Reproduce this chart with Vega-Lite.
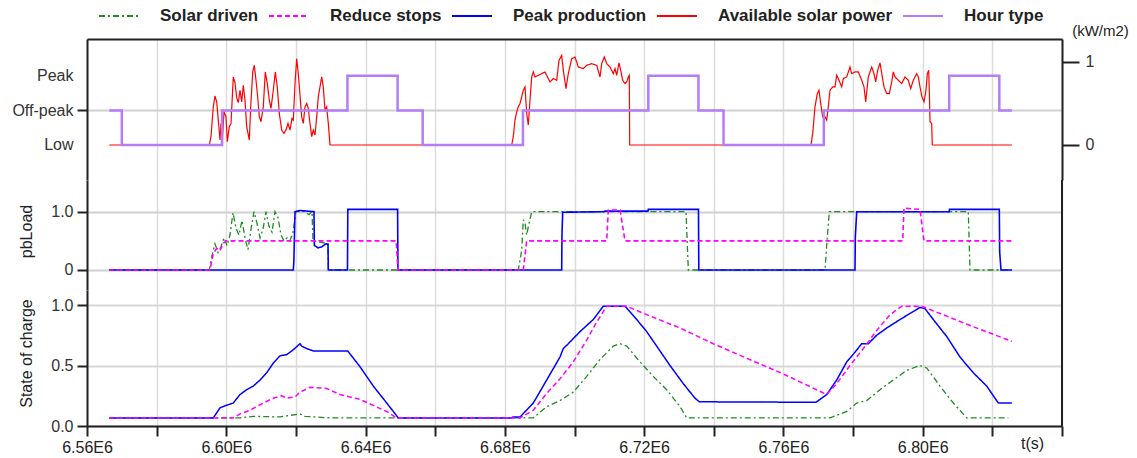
{
 "$schema": "https://vega.github.io/schema/vega-lite/v6.json",
 "background": "white",
 "padding": {"left": 11, "top": -5, "right": 5, "bottom": 5},
 "bounds": "flush",
 "spacing": 0,
 "config": {
  "view": {"stroke": null},
  "font": "Liberation Sans",
  "axis": {"labelFont": "Liberation Sans", "titleFont": "Liberation Sans", "labelColor": "#333", "titleColor": "#222", "gridColor": "#dcdcdc", "gridWidth": 1.5, "domainColor": "#222", "domainWidth": 2, "tickColor": "#222", "tickWidth": 2, "labelOverlap": false, "labelFlush": false}
 },
 "resolve": {"scale": {"color": "independent", "strokeDash": "independent"}, "legend": {"color": "independent", "strokeDash": "independent"}},
 "datasets": {
  "hour": [
   {"t":6566400,"v":1,"s":"Hour type"},{"t":6570000,"v":0,"s":"Hour type"},{"t":6598800,"v":1,"s":"Hour type"},{"t":6634800,"v":2,"s":"Hour type"},{"t":6649200,"v":1,"s":"Hour type"},{"t":6656400,"v":0,"s":"Hour type"},{"t":6685200,"v":1,"s":"Hour type"},{"t":6721200,"v":2,"s":"Hour type"},{"t":6735600,"v":1,"s":"Hour type"},{"t":6742800,"v":0,"s":"Hour type"},{"t":6771600,"v":1,"s":"Hour type"},{"t":6807600,"v":2,"s":"Hour type"},{"t":6822000,"v":1,"s":"Hour type"},{"t":6825600,"v":1,"s":"Hour type"}
  ],
  "solar": [
   {"t":6566400,"v":0,"s":"Available solar power"},{"t":6595122,"v":0,"s":"Available solar power"},{"t":6595610,"v":0.10,"s":"Available solar power"},{"t":6596271,"v":0.46,"s":"Available solar power"},{"t":6596759,"v":0.59,"s":"Available solar power"},{"t":6597247,"v":0.52,"s":"Available solar power"},{"t":6597707,"v":0.30,"s":"Available solar power"},{"t":6598195,"v":0.06,"s":"Available solar power"},{"t":6598482,"v":0.26,"s":"Available solar power"},{"t":6598855,"v":0.06,"s":"Available solar power"},{"t":6599344,"v":0.40,"s":"Available solar power"},{"t":6599918,"v":0.34,"s":"Available solar power"},{"t":6600291,"v":0.04,"s":"Available solar power"},{"t":6600866,"v":0.22,"s":"Available solar power"},{"t":6601354,"v":0.26,"s":"Available solar power"},{"t":6602014,"v":0.82,"s":"Available solar power"},{"t":6602503,"v":0.75,"s":"Available solar power"},{"t":6602991,"v":0.57,"s":"Available solar power"},{"t":6603450,"v":0.51,"s":"Available solar power"},{"t":6603939,"v":0.66,"s":"Available solar power"},{"t":6604427,"v":0.52,"s":"Available solar power"},{"t":6604886,"v":0.72,"s":"Available solar power"},{"t":6605374,"v":0.54,"s":"Available solar power"},{"t":6605863,"v":0.22,"s":"Available solar power"},{"t":6606609,"v":0.06,"s":"Available solar power"},{"t":6607011,"v":0.46,"s":"Available solar power"},{"t":6607586,"v":0.88,"s":"Available solar power"},{"t":6608045,"v":0.96,"s":"Available solar power"},{"t":6608533,"v":0.78,"s":"Available solar power"},{"t":6609022,"v":0.58,"s":"Available solar power"},{"t":6609481,"v":0.34,"s":"Available solar power"},{"t":6609969,"v":0.28,"s":"Available solar power"},{"t":6610630,"v":0.46,"s":"Available solar power"},{"t":6611204,"v":0.88,"s":"Available solar power"},{"t":6611779,"v":0.74,"s":"Available solar power"},{"t":6612353,"v":0.54,"s":"Available solar power"},{"t":6612841,"v":0.44,"s":"Available solar power"},{"t":6613502,"v":0.66,"s":"Available solar power"},{"t":6614076,"v":0.88,"s":"Available solar power"},{"t":6614650,"v":0.70,"s":"Available solar power"},{"t":6615225,"v":0.38,"s":"Available solar power"},{"t":6615914,"v":0.18,"s":"Available solar power"},{"t":6616574,"v":0.14,"s":"Available solar power"},{"t":6617149,"v":0.18,"s":"Available solar power"},{"t":6617723,"v":0.26,"s":"Available solar power"},{"t":6618298,"v":0.18,"s":"Available solar power"},{"t":6618872,"v":0.32,"s":"Available solar power"},{"t":6619245,"v":0.30,"s":"Available solar power"},{"t":6619733,"v":0.74,"s":"Available solar power"},{"t":6620222,"v":1.04,"s":"Available solar power"},{"t":6620681,"v":0.86,"s":"Available solar power"},{"t":6621169,"v":0.60,"s":"Available solar power"},{"t":6621657,"v":0.34,"s":"Available solar power"},{"t":6622117,"v":0.26,"s":"Available solar power"},{"t":6622605,"v":0.46,"s":"Available solar power"},{"t":6623093,"v":0.50,"s":"Available solar power"},{"t":6623553,"v":0.44,"s":"Available solar power"},{"t":6624041,"v":0.26,"s":"Available solar power"},{"t":6624529,"v":0.10,"s":"Available solar power"},{"t":6624989,"v":0.18,"s":"Available solar power"},{"t":6625477,"v":0.12,"s":"Available solar power"},{"t":6625965,"v":0.34,"s":"Available solar power"},{"t":6626425,"v":0.58,"s":"Available solar power"},{"t":6626913,"v":0.70,"s":"Available solar power"},{"t":6627401,"v":0.82,"s":"Available solar power"},{"t":6627861,"v":0.70,"s":"Available solar power"},{"t":6628349,"v":0.42,"s":"Available solar power"},{"t":6628837,"v":0.46,"s":"Available solar power"},{"t":6629297,"v":0.26,"s":"Available solar power"},{"t":6629785,"v":0,"s":"Available solar power"},
   {"t":6681965,"v":0,"s":"Available solar power"},{"t":6682425,"v":0.10,"s":"Available solar power"},{"t":6682913,"v":0.30,"s":"Available solar power"},{"t":6683401,"v":0.40,"s":"Available solar power"},{"t":6683861,"v":0.46,"s":"Available solar power"},{"t":6684349,"v":0.50,"s":"Available solar power"},{"t":6684837,"v":0.58,"s":"Available solar power"},{"t":6685297,"v":0.66,"s":"Available solar power"},{"t":6685785,"v":0.70,"s":"Available solar power"},{"t":6686273,"v":0.38,"s":"Available solar power"},{"t":6686733,"v":0.24,"s":"Available solar power"},{"t":6687221,"v":0.54,"s":"Available solar power"},{"t":6687709,"v":0.82,"s":"Available solar power"},{"t":6688169,"v":0.88,"s":"Available solar power"},{"t":6688657,"v":0.82,"s":"Available solar power"},{"t":6689605,"v":0.84,"s":"Available solar power"},{"t":6690581,"v":0.86,"s":"Available solar power"},{"t":6691528,"v":0.88,"s":"Available solar power"},{"t":6692476,"v":0.80,"s":"Available solar power"},{"t":6692964,"v":0.76,"s":"Available solar power"},{"t":6693912,"v":0.80,"s":"Available solar power"},{"t":6694888,"v":0.78,"s":"Available solar power"},{"t":6695549,"v":1.02,"s":"Available solar power"},{"t":6696324,"v":1.08,"s":"Available solar power"},{"t":6696784,"v":0.90,"s":"Available solar power"},{"t":6697559,"v":0.68,"s":"Available solar power"},{"t":6698220,"v":0.86,"s":"Available solar power"},{"t":6699196,"v":1.04,"s":"Available solar power"},{"t":6700144,"v":1.06,"s":"Available solar power"},{"t":6701091,"v":0.94,"s":"Available solar power"},{"t":6702528,"v":0.92,"s":"Available solar power"},{"t":6703504,"v":0.96,"s":"Available solar power"},{"t":6704940,"v":0.98,"s":"Available solar power"},{"t":6706376,"v":0.96,"s":"Available solar power"},{"t":6707323,"v":0.82,"s":"Available solar power"},{"t":6707812,"v":0.98,"s":"Available solar power"},{"t":6708558,"v":1.06,"s":"Available solar power"},{"t":6709248,"v":0.98,"s":"Available solar power"},{"t":6710195,"v":0.94,"s":"Available solar power"},{"t":6711143,"v":0.86,"s":"Available solar power"},{"t":6711631,"v":0.92,"s":"Available solar power"},{"t":6712119,"v":0.84,"s":"Available solar power"},{"t":6712780,"v":0.99,"s":"Available solar power"},{"t":6713268,"v":0.90,"s":"Available solar power"},{"t":6713842,"v":0.78,"s":"Available solar power"},{"t":6714503,"v":0.74,"s":"Available solar power"},{"t":6714991,"v":0.76,"s":"Available solar power"},{"t":6715451,"v":0.82,"s":"Available solar power"},{"t":6715738,"v":0.84,"s":"Available solar power"},{"t":6715853,"v":0,"s":"Available solar power"},
   {"t":6767918,"v":0,"s":"Available solar power"},{"t":6768406,"v":0.14,"s":"Available solar power"},{"t":6769067,"v":0.46,"s":"Available solar power"},{"t":6769727,"v":0.62,"s":"Available solar power"},{"t":6770216,"v":0.66,"s":"Available solar power"},{"t":6770704,"v":0.50,"s":"Available solar power"},{"t":6771278,"v":0.34,"s":"Available solar power"},{"t":6771939,"v":0.34,"s":"Available solar power"},{"t":6772427,"v":0.30,"s":"Available solar power"},{"t":6772886,"v":0.46,"s":"Available solar power"},{"t":6773375,"v":0.66,"s":"Available solar power"},{"t":6774150,"v":0.70,"s":"Available solar power"},{"t":6774811,"v":0.70,"s":"Available solar power"},{"t":6775299,"v":0.84,"s":"Available solar power"},{"t":6775758,"v":0.80,"s":"Available solar power"},{"t":6776735,"v":0.70,"s":"Available solar power"},{"t":6777194,"v":0.80,"s":"Available solar power"},{"t":6778171,"v":0.82,"s":"Available solar power"},{"t":6779118,"v":0.94,"s":"Available solar power"},{"t":6779607,"v":0.86,"s":"Available solar power"},{"t":6780554,"v":0.88,"s":"Available solar power"},{"t":6781502,"v":0.88,"s":"Available solar power"},{"t":6782478,"v":0.78,"s":"Available solar power"},{"t":6783139,"v":0.70,"s":"Available solar power"},{"t":6783627,"v":0.52,"s":"Available solar power"},{"t":6784374,"v":0.82,"s":"Available solar power"},{"t":6785350,"v":0.94,"s":"Available solar power"},{"t":6786011,"v":0.86,"s":"Available solar power"},{"t":6786499,"v":0.76,"s":"Available solar power"},{"t":6787073,"v":0.90,"s":"Available solar power"},{"t":6787734,"v":0.99,"s":"Available solar power"},{"t":6788394,"v":0.82,"s":"Available solar power"},{"t":6788882,"v":0.70,"s":"Available solar power"},{"t":6789658,"v":0.62,"s":"Available solar power"},{"t":6790404,"v":0.62,"s":"Available solar power"},{"t":6791094,"v":0.76,"s":"Available solar power"},{"t":6791553,"v":0.88,"s":"Available solar power"},{"t":6792041,"v":0.82,"s":"Available solar power"},{"t":6792989,"v":0.78,"s":"Available solar power"},{"t":6793966,"v":0.74,"s":"Available solar power"},{"t":6794913,"v":0.82,"s":"Available solar power"},{"t":6795861,"v":0.78,"s":"Available solar power"},{"t":6796550,"v":0.68,"s":"Available solar power"},{"t":6797297,"v":0.78,"s":"Available solar power"},{"t":6798273,"v":0.86,"s":"Available solar power"},{"t":6798733,"v":0.82,"s":"Available solar power"},{"t":6799221,"v":0.70,"s":"Available solar power"},{"t":6799795,"v":0.58,"s":"Available solar power"},{"t":6800370,"v":0.52,"s":"Available solar power"},{"t":6800944,"v":0.66,"s":"Available solar power"},{"t":6801318,"v":0.86,"s":"Available solar power"},{"t":6801720,"v":0.90,"s":"Available solar power"},{"t":6801892,"v":0.66,"s":"Available solar power"},{"t":6802093,"v":0.28,"s":"Available solar power"},{"t":6802581,"v":0.26,"s":"Available solar power"},{"t":6802753,"v":0,"s":"Available solar power"},{"t":6825600,"v":0,"s":"Available solar power"}
  ],
  "pbSolar": [
   {"t":6566400,"v":0,"s":"Solar driven"},{"t":6595122,"v":0,"s":"Solar driven"},{"t":6595898,"v":0.25,"s":"Solar driven"},{"t":6596759,"v":0.45,"s":"Solar driven"},{"t":6597621,"v":0.30,"s":"Solar driven"},{"t":6598482,"v":0.40,"s":"Solar driven"},{"t":6599344,"v":0.55,"s":"Solar driven"},{"t":6600205,"v":0.42,"s":"Solar driven"},{"t":6601067,"v":0.60,"s":"Solar driven"},{"t":6601928,"v":0.98,"s":"Solar driven"},{"t":6602790,"v":0.72,"s":"Solar driven"},{"t":6603651,"v":0.60,"s":"Solar driven"},{"t":6604513,"v":0.85,"s":"Solar driven"},{"t":6605374,"v":0.55,"s":"Solar driven"},{"t":6606236,"v":0.35,"s":"Solar driven"},{"t":6607098,"v":0.70,"s":"Solar driven"},{"t":6607959,"v":1.0,"s":"Solar driven"},{"t":6608821,"v":0.80,"s":"Solar driven"},{"t":6609682,"v":0.55,"s":"Solar driven"},{"t":6610544,"v":0.70,"s":"Solar driven"},{"t":6611405,"v":1.0,"s":"Solar driven"},{"t":6612267,"v":0.75,"s":"Solar driven"},{"t":6613128,"v":0.65,"s":"Solar driven"},{"t":6613990,"v":1.0,"s":"Solar driven"},{"t":6614851,"v":0.90,"s":"Solar driven"},{"t":6615713,"v":0.60,"s":"Solar driven"},{"t":6616574,"v":0.50,"s":"Solar driven"},{"t":6617436,"v":0.55,"s":"Solar driven"},{"t":6618298,"v":0.50,"s":"Solar driven"},{"t":6619159,"v":0.65,"s":"Solar driven"},{"t":6620021,"v":1.0,"s":"Solar driven"},{"t":6622605,"v":1.0,"s":"Solar driven"},{"t":6623754,"v":0.95,"s":"Solar driven"},{"t":6624616,"v":1.0,"s":"Solar driven"},{"t":6624903,"v":0.50,"s":"Solar driven"},{"t":6626913,"v":0.48,"s":"Solar driven"},{"t":6629210,"v":0.45,"s":"Solar driven"},{"t":6629300,"v":0,"s":"Solar driven"},{"t":6683861,"v":0,"s":"Solar driven"},{"t":6684837,"v":0.34,"s":"Solar driven"},{"t":6685297,"v":0.86,"s":"Solar driven"},{"t":6685785,"v":0.80,"s":"Solar driven"},{"t":6686273,"v":0.60,"s":"Solar driven"},{"t":6686733,"v":0.74,"s":"Solar driven"},{"t":6687709,"v":1.0,"s":"Solar driven"},{"t":6732021,"v":1.0,"s":"Solar driven"},{"t":6732681,"v":0,"s":"Solar driven"},{"t":6771939,"v":0,"s":"Solar driven"},{"t":6772513,"v":0.5,"s":"Solar driven"},{"t":6773174,"v":1.0,"s":"Solar driven"},{"t":6813092,"v":1.0,"s":"Solar driven"},{"t":6813580,"v":0,"s":"Solar driven"},{"t":6825600,"v":0,"s":"Solar driven"}
  ],
  "pbPeak": [
   {"t":6566400,"v":0,"s":"Peak production"},{"t":6619245,"v":0,"s":"Peak production"},{"t":6619400,"v":0.14,"s":"Peak production"},{"t":6619733,"v":1.0,"s":"Peak production"},{"t":6621169,"v":1.02,"s":"Peak production"},{"t":6625190,"v":1.0,"s":"Peak production"},{"t":6625300,"v":0.42,"s":"Peak production"},{"t":6626339,"v":0.38,"s":"Peak production"},{"t":6627487,"v":0.40,"s":"Peak production"},{"t":6628636,"v":0.45,"s":"Peak production"},{"t":6629210,"v":0.44,"s":"Peak production"},{"t":6629300,"v":0,"s":"Peak production"},{"t":6634800,"v":0,"s":"Peak production"},{"t":6634900,"v":1.04,"s":"Peak production"},{"t":6649200,"v":1.04,"s":"Peak production"},{"t":6649300,"v":0,"s":"Peak production"},{"t":6696324,"v":0,"s":"Peak production"},{"t":6696400,"v":0.6,"s":"Peak production"},{"t":6696612,"v":0.99,"s":"Peak production"},{"t":6708472,"v":1.0,"s":"Peak production"},{"t":6708700,"v":1.01,"s":"Peak production"},{"t":6721100,"v":1.01,"s":"Peak production"},{"t":6721200,"v":1.04,"s":"Peak production"},{"t":6735600,"v":1.04,"s":"Peak production"},{"t":6735700,"v":0,"s":"Peak production"},{"t":6780554,"v":0,"s":"Peak production"},{"t":6780650,"v":0.57,"s":"Peak production"},{"t":6781042,"v":1.0,"s":"Peak production"},{"t":6807600,"v":1.0,"s":"Peak production"},{"t":6807700,"v":1.04,"s":"Peak production"},{"t":6822000,"v":1.04,"s":"Peak production"},{"t":6822100,"v":0.31,"s":"Peak production"},{"t":6822483,"v":0,"s":"Peak production"},{"t":6825600,"v":0,"s":"Peak production"}
  ],
  "pbReduce": [
   {"t":6566400,"v":0,"s":"Reduce stops"},{"t":6595324,"v":0,"s":"Reduce stops"},{"t":6596271,"v":0.29,"s":"Reduce stops"},{"t":6597247,"v":0.37,"s":"Reduce stops"},{"t":6598195,"v":0.33,"s":"Reduce stops"},{"t":6599143,"v":0.46,"s":"Reduce stops"},{"t":6600119,"v":0.5,"s":"Reduce stops"},{"t":6648800,"v":0.5,"s":"Reduce stops"},{"t":6649300,"v":0,"s":"Reduce stops"},{"t":6685297,"v":0,"s":"Reduce stops"},{"t":6686273,"v":0.5,"s":"Reduce stops"},{"t":6709248,"v":0.5,"s":"Reduce stops"},{"t":6709707,"v":1.03,"s":"Reduce stops"},{"t":6713067,"v":1.03,"s":"Reduce stops"},{"t":6714503,"v":0.5,"s":"Reduce stops"},{"t":6794253,"v":0.5,"s":"Reduce stops"},{"t":6794626,"v":1.06,"s":"Reduce stops"},{"t":6799221,"v":1.04,"s":"Reduce stops"},{"t":6800370,"v":0.5,"s":"Reduce stops"},{"t":6825600,"v":0.5,"s":"Reduce stops"}
  ],
  "socSolar": [
   {"t":6566400,"v":0.067,"s":"Solar driven"},{"t":6603939,"v":0.067,"s":"Solar driven"},{"t":6607672,"v":0.08,"s":"Solar driven"},{"t":6615426,"v":0.075,"s":"Solar driven"},{"t":6621169,"v":0.10,"s":"Solar driven"},{"t":6622605,"v":0.08,"s":"Solar driven"},{"t":6629785,"v":0.067,"s":"Solar driven"},{"t":6688169,"v":0.067,"s":"Solar driven"},{"t":6692017,"v":0.16,"s":"Solar driven"},{"t":6695836,"v":0.21,"s":"Solar driven"},{"t":6699656,"v":0.28,"s":"Solar driven"},{"t":6703504,"v":0.41,"s":"Solar driven"},{"t":6707323,"v":0.55,"s":"Solar driven"},{"t":6711143,"v":0.66,"s":"Solar driven"},{"t":6713067,"v":0.68,"s":"Solar driven"},{"t":6714991,"v":0.66,"s":"Solar driven"},{"t":6718811,"v":0.53,"s":"Solar driven"},{"t":6722630,"v":0.41,"s":"Solar driven"},{"t":6726478,"v":0.30,"s":"Solar driven"},{"t":6730298,"v":0.16,"s":"Solar driven"},{"t":6732222,"v":0.067,"s":"Solar driven"},{"t":6773375,"v":0.067,"s":"Solar driven"},{"t":6778171,"v":0.12,"s":"Solar driven"},{"t":6781042,"v":0.19,"s":"Solar driven"},{"t":6783914,"v":0.21,"s":"Solar driven"},{"t":6787734,"v":0.30,"s":"Solar driven"},{"t":6791553,"v":0.38,"s":"Solar driven"},{"t":6795401,"v":0.46,"s":"Solar driven"},{"t":6799221,"v":0.50,"s":"Solar driven"},{"t":6801145,"v":0.48,"s":"Solar driven"},{"t":6804965,"v":0.33,"s":"Solar driven"},{"t":6808784,"v":0.19,"s":"Solar driven"},{"t":6812630,"v":0.067,"s":"Solar driven"},{"t":6824579,"v":0.067,"s":"Solar driven"}
  ],
  "socPeak": [
   {"t":6566400,"v":0.067,"s":"Peak production"},{"t":6596271,"v":0.067,"s":"Peak production"},{"t":6598195,"v":0.15,"s":"Peak production"},{"t":6599918,"v":0.17,"s":"Peak production"},{"t":6602014,"v":0.19,"s":"Peak production"},{"t":6603939,"v":0.26,"s":"Peak production"},{"t":6605863,"v":0.30,"s":"Peak production"},{"t":6607758,"v":0.33,"s":"Peak production"},{"t":6609682,"v":0.38,"s":"Peak production"},{"t":6611606,"v":0.44,"s":"Peak production"},{"t":6613502,"v":0.52,"s":"Peak production"},{"t":6615426,"v":0.58,"s":"Peak production"},{"t":6617350,"v":0.59,"s":"Peak production"},{"t":6619245,"v":0.63,"s":"Peak production"},{"t":6621169,"v":0.68,"s":"Peak production"},{"t":6621657,"v":0.66,"s":"Peak production"},{"t":6623093,"v":0.64,"s":"Peak production"},{"t":6624989,"v":0.62,"s":"Peak production"},{"t":6634868,"v":0.62,"s":"Peak production"},{"t":6638400,"v":0.49,"s":"Peak production"},{"t":6642220,"v":0.33,"s":"Peak production"},{"t":6646068,"v":0.19,"s":"Peak production"},{"t":6649399,"v":0.067,"s":"Peak production"},{"t":6681965,"v":0.067,"s":"Peak production"},{"t":6682340,"v":0.074,"s":"Peak production"},{"t":6684349,"v":0.074,"s":"Peak production"},{"t":6688169,"v":0.19,"s":"Peak production"},{"t":6692017,"v":0.38,"s":"Peak production"},{"t":6695836,"v":0.57,"s":"Peak production"},{"t":6696784,"v":0.64,"s":"Peak production"},{"t":6698220,"v":0.68,"s":"Peak production"},{"t":6701580,"v":0.78,"s":"Peak production"},{"t":6705399,"v":0.88,"s":"Peak production"},{"t":6708271,"v":0.99,"s":"Peak production"},{"t":6714503,"v":0.99,"s":"Peak production"},{"t":6717863,"v":0.88,"s":"Peak production"},{"t":6720735,"v":0.78,"s":"Peak production"},{"t":6723606,"v":0.66,"s":"Peak production"},{"t":6727426,"v":0.50,"s":"Peak production"},{"t":6731245,"v":0.35,"s":"Peak production"},{"t":6734605,"v":0.23,"s":"Peak production"},{"t":6735840,"v":0.20,"s":"Peak production"},{"t":6769354,"v":0.196,"s":"Peak production"},{"t":6772427,"v":0.26,"s":"Peak production"},{"t":6775299,"v":0.38,"s":"Peak production"},{"t":6778171,"v":0.53,"s":"Peak production"},{"t":6780554,"v":0.61,"s":"Peak production"},{"t":6782478,"v":0.68,"s":"Peak production"},{"t":6784374,"v":0.68,"s":"Peak production"},{"t":6786786,"v":0.75,"s":"Peak production"},{"t":6789658,"v":0.81,"s":"Peak production"},{"t":6793477,"v":0.88,"s":"Peak production"},{"t":6796349,"v":0.93,"s":"Peak production"},{"t":6799221,"v":0.98,"s":"Peak production"},{"t":6800657,"v":0.97,"s":"Peak production"},{"t":6803040,"v":0.88,"s":"Peak production"},{"t":6806888,"v":0.74,"s":"Peak production"},{"t":6810708,"v":0.57,"s":"Peak production"},{"t":6814528,"v":0.44,"s":"Peak production"},{"t":6818376,"v":0.33,"s":"Peak production"},{"t":6821707,"v":0.19,"s":"Peak production"},{"t":6825600,"v":0.19,"s":"Peak production"}
  ],
  "socReduce": [
   {"t":6566400,"v":0.067,"s":"Reduce stops"},{"t":6602014,"v":0.067,"s":"Reduce stops"},{"t":6603939,"v":0.10,"s":"Reduce stops"},{"t":6606810,"v":0.13,"s":"Reduce stops"},{"t":6610630,"v":0.19,"s":"Reduce stops"},{"t":6613502,"v":0.23,"s":"Reduce stops"},{"t":6615914,"v":0.25,"s":"Reduce stops"},{"t":6617350,"v":0.23,"s":"Reduce stops"},{"t":6619733,"v":0.24,"s":"Reduce stops"},{"t":6621169,"v":0.28,"s":"Reduce stops"},{"t":6624041,"v":0.32,"s":"Reduce stops"},{"t":6628837,"v":0.31,"s":"Reduce stops"},{"t":6632657,"v":0.26,"s":"Reduce stops"},{"t":6638400,"v":0.22,"s":"Reduce stops"},{"t":6642220,"v":0.17,"s":"Reduce stops"},{"t":6646068,"v":0.12,"s":"Reduce stops"},{"t":6648940,"v":0.067,"s":"Reduce stops"},{"t":6684349,"v":0.067,"s":"Reduce stops"},{"t":6688169,"v":0.13,"s":"Reduce stops"},{"t":6692017,"v":0.27,"s":"Reduce stops"},{"t":6695836,"v":0.39,"s":"Reduce stops"},{"t":6699656,"v":0.53,"s":"Reduce stops"},{"t":6703504,"v":0.71,"s":"Reduce stops"},{"t":6706376,"v":0.86,"s":"Reduce stops"},{"t":6709248,"v":0.99,"s":"Reduce stops"},{"t":6714991,"v":0.99,"s":"Reduce stops"},{"t":6720735,"v":0.92,"s":"Reduce stops"},{"t":6730298,"v":0.81,"s":"Reduce stops"},{"t":6739861,"v":0.68,"s":"Reduce stops"},{"t":6749453,"v":0.56,"s":"Reduce stops"},{"t":6759964,"v":0.43,"s":"Reduce stops"},{"t":6772427,"v":0.26,"s":"Reduce stops"},{"t":6775299,"v":0.35,"s":"Reduce stops"},{"t":6779118,"v":0.50,"s":"Reduce stops"},{"t":6782938,"v":0.64,"s":"Reduce stops"},{"t":6786786,"v":0.79,"s":"Reduce stops"},{"t":6790606,"v":0.92,"s":"Reduce stops"},{"t":6793966,"v":0.99,"s":"Reduce stops"},{"t":6799709,"v":0.99,"s":"Reduce stops"},{"t":6804965,"v":0.93,"s":"Reduce stops"},{"t":6814528,"v":0.82,"s":"Reduce stops"},{"t":6825600,"v":0.70,"s":"Reduce stops"}
  ]
 },
 "vconcat": [
  {
   "width": 975,
   "height": 141,
   "encoding": {
    "x": {"field": "t", "type": "quantitative", "scale": {"domain": [6560000, 6840000], "nice": false, "zero": false},
     "axis": {"orient": "top", "title": null, "labels": false, "ticks": false, "domain": true, "grid": true,
      "values": [6560000,6580000,6600000,6620000,6640000,6660000,6680000,6700000,6720000,6740000,6760000,6780000,6800000,6820000,6840000]}}
   },
   "layer": [
    {
     "data": {"name": "solar"},
     "mark": {"type": "line", "strokeWidth": 1.2},
     "encoding": {
      "y": {"field": "v", "type": "quantitative", "scale": {"domain": [-0.4217, 1.2771], "nice": false, "zero": false},
       "axis": {"orient": "right", "values": [0, 1], "format": "d", "grid": false, "tickSize": 17, "labelPadding": 6, "labelFontSize": 16,
        "title": "(kW/m2)", "titleAngle": 0, "titleX": 38, "titleY": -9, "titleAlign": "center", "titleBaseline": "middle", "titleFontSize": 15, "titleFontWeight": "normal"}},
      "color": {"field": "s", "type": "nominal",
       "scale": {"domain": ["Solar driven","Reduce stops","Peak production","Available solar power","Hour type"], "range": ["#1e8c1e","#ff00ff","#0000ff","#ff0000","#b57cf7"]},
       "legend": {"orient": "none", "legendX": 11, "legendY": -44, "direction": "horizontal", "columns": 5, "title": null, "symbolType": "stroke", "symbolSize": 1600, "symbolStrokeWidth": 2, "labelFontSize": 17, "labelFontWeight": "bold", "labelColor": "#222", "labelOffset": 20, "columnPadding": 6, "labelLimit": 400}},
      "strokeDash": {"field": "s", "type": "nominal",
       "scale": {"domain": ["Solar driven","Reduce stops","Peak production","Available solar power","Hour type"], "range": [[6,3,2,3],[5,3],[1,0],[1,0],[1,0]]},
       "legend": {"orient": "none", "legendX": 11, "legendY": -44, "direction": "horizontal", "columns": 5, "title": null, "symbolType": "stroke", "symbolSize": 1600, "symbolStrokeWidth": 2, "labelFontSize": 17, "labelFontWeight": "bold", "labelColor": "#222", "labelOffset": 20, "columnPadding": 6, "labelLimit": 400}}
     }
    },
    {
     "data": {"name": "hour"},
     "mark": {"type": "line", "strokeWidth": 2.5, "interpolate": "step-after"},
     "encoding": {
      "y": {"field": "v", "type": "quantitative", "scale": {"domain": [-1.0116, 3.0636], "nice": false, "zero": false},
       "axis": {"orient": "left", "values": [0, 1, 2], "labelExpr": "datum.value == 2 ? 'Peak' : datum.value == 1 ? 'Off-peak' : 'Low'", "title": null,
        "grid": true, "gridColor": {"condition": {"test": "datum.value == 1", "value": "#d0d0d0"}, "value": "transparent"}, "gridWidth": 2,
        "tickColor": {"condition": {"test": "datum.value == 1", "value": "#222"}, "value": "transparent"},
        "tickSize": 10, "labelPadding": 4, "labelFontSize": 16}},
      "color": {"field": "s", "type": "nominal",
       "scale": {"domain": ["Solar driven","Reduce stops","Peak production","Available solar power","Hour type"], "range": ["#1e8c1e","#ff00ff","#0000ff","#ff0000","#b57cf7"]},
       "legend": {"orient": "none", "legendX": 11, "legendY": -44, "direction": "horizontal", "columns": 5, "title": null, "symbolType": "stroke", "symbolSize": 1600, "symbolStrokeWidth": 2, "labelFontSize": 17, "labelFontWeight": "bold", "labelColor": "#222", "labelOffset": 20, "columnPadding": 6, "labelLimit": 400}},
      "strokeDash": {"field": "s", "type": "nominal",
       "scale": {"domain": ["Solar driven","Reduce stops","Peak production","Available solar power","Hour type"], "range": [[6,3,2,3],[5,3],[1,0],[1,0],[1,0]]},
       "legend": {"orient": "none", "legendX": 11, "legendY": -44, "direction": "horizontal", "columns": 5, "title": null, "symbolType": "stroke", "symbolSize": 1600, "symbolStrokeWidth": 2, "labelFontSize": 17, "labelFontWeight": "bold", "labelColor": "#222", "labelOffset": 20, "columnPadding": 6, "labelLimit": 400}}
     }
    }
   ],
   "resolve": {"scale": {"y": "independent"}}
  },
  {
   "width": 975,
   "height": 110,
   "layer": [
    {"data": {"name": "pbSolar"}, "mark": {"type": "line", "strokeWidth": 1.3},
     "encoding": {
      "x": {"field": "t", "type": "quantitative", "scale": {"domain": [6560000, 6840000], "nice": false, "zero": false},
       "axis": {"title": null, "labels": false, "ticks": false, "domain": false, "grid": true,
        "values": [6560000,6580000,6600000,6620000,6640000,6660000,6680000,6700000,6720000,6740000,6760000,6780000,6800000,6820000,6840000]}},
      "y": {"field": "v", "type": "quantitative", "scale": {"domain": [-0.3431, 1.5437], "nice": false, "zero": false},
       "axis": {"values": [0, 1], "labelExpr": "datum.value == 0 ? '0' : '1.0'", "grid": true, "gridColor": "#d0d0d0", "gridWidth": 2, "tickSize": 10, "labelPadding": 4, "labelFontSize": 16,
        "title": "pbLoad", "titleX": -61, "titleY": 51, "titleBaseline": "middle", "titleFontSize": 16, "titleFontWeight": "normal"}},
      "color": {"field": "s", "type": "nominal", "legend": null,
       "scale": {"domain": ["Solar driven","Reduce stops","Peak production","Available solar power","Hour type"], "range": ["#1e8c1e","#ff00ff","#0000ff","#ff0000","#b57cf7"]}},
      "strokeDash": {"field": "s", "type": "nominal", "legend": null,
       "scale": {"domain": ["Solar driven","Reduce stops","Peak production","Available solar power","Hour type"], "range": [[6,3,2,3],[5,3],[1,0],[1,0],[1,0]]}}
     }},
    {"data": {"name": "pbPeak"}, "mark": {"type": "line", "strokeWidth": 1.6},
     "encoding": {
      "x": {"field": "t", "type": "quantitative"},
      "y": {"field": "v", "type": "quantitative"},
      "color": {"field": "s", "type": "nominal", "legend": null},
      "strokeDash": {"field": "s", "type": "nominal", "legend": null}
     }},
    {"data": {"name": "pbReduce"}, "mark": {"type": "line", "strokeWidth": 1.6},
     "encoding": {
      "x": {"field": "t", "type": "quantitative"},
      "y": {"field": "v", "type": "quantitative"},
      "color": {"field": "s", "type": "nominal", "legend": null},
      "strokeDash": {"field": "s", "type": "nominal", "legend": null}
     }},
    {"data": {"values": [{}]}, "mark": {"type": "rule", "color": "#222", "strokeWidth": 2},
     "encoding": {"x": {"datum": 6840000, "type": "quantitative"}}}
   ]
  },
  {
   "width": 975,
   "height": 136,
   "layer": [
    {"data": {"name": "socSolar"}, "mark": {"type": "line", "strokeWidth": 1.3},
     "encoding": {
      "x": {"field": "t", "type": "quantitative", "scale": {"domain": [6560000, 6840000], "nice": false, "zero": false},
       "axis": {"orient": "bottom", "grid": true, "tickSize": 10, "labelPadding": 3, "labelFontSize": 16, "labelColor": "#222", "labelAlign": "center", "labelFlush": false,
        "values": [6560000,6580000,6600000,6620000,6640000,6660000,6680000,6700000,6720000,6740000,6760000,6780000,6800000,6820000,6840000],
        "labelExpr": "(datum.value - 6560000) % 40000 == 0 && datum.value < 6840000 ? format(datum.value / 1000000, '.2f') + 'E6' : ''",
        "title": "t(s)", "titleX": 945, "titleY": 17, "titleAlign": "center", "titleBaseline": "middle", "titleFontSize": 16, "titleFontWeight": "normal"}},
      "y": {"field": "v", "type": "quantitative", "scale": {"domain": [0, 1.124], "nice": false, "zero": false},
       "axis": {"values": [0, 0.5, 1], "format": ".1f", "grid": true, "gridColor": "#d8d8d8", "gridWidth": 2, "tickSize": 10, "labelPadding": 4, "labelFontSize": 16,
        "title": "State of charge", "titleX": -61, "titleY": 63, "titleBaseline": "middle", "titleFontSize": 16, "titleFontWeight": "normal"}},
      "color": {"field": "s", "type": "nominal", "legend": null,
       "scale": {"domain": ["Solar driven","Reduce stops","Peak production","Available solar power","Hour type"], "range": ["#1e8c1e","#ff00ff","#0000ff","#ff0000","#b57cf7"]}},
      "strokeDash": {"field": "s", "type": "nominal", "legend": null,
       "scale": {"domain": ["Solar driven","Reduce stops","Peak production","Available solar power","Hour type"], "range": [[6,3,2,3],[5,3],[1,0],[1,0],[1,0]]}}
     }},
    {"data": {"name": "socPeak"}, "mark": {"type": "line", "strokeWidth": 1.5},
     "encoding": {
      "x": {"field": "t", "type": "quantitative"},
      "y": {"field": "v", "type": "quantitative"},
      "color": {"field": "s", "type": "nominal", "legend": null},
      "strokeDash": {"field": "s", "type": "nominal", "legend": null}
     }},
    {"data": {"name": "socReduce"}, "mark": {"type": "line", "strokeWidth": 1.5},
     "encoding": {
      "x": {"field": "t", "type": "quantitative"},
      "y": {"field": "v", "type": "quantitative"},
      "color": {"field": "s", "type": "nominal", "legend": null},
      "strokeDash": {"field": "s", "type": "nominal", "legend": null}
     }},
    {"data": {"values": [{}]}, "mark": {"type": "rule", "color": "#222", "strokeWidth": 2},
     "encoding": {"x": {"datum": 6840000, "type": "quantitative"}}}
   ]
  }
 ]
}
